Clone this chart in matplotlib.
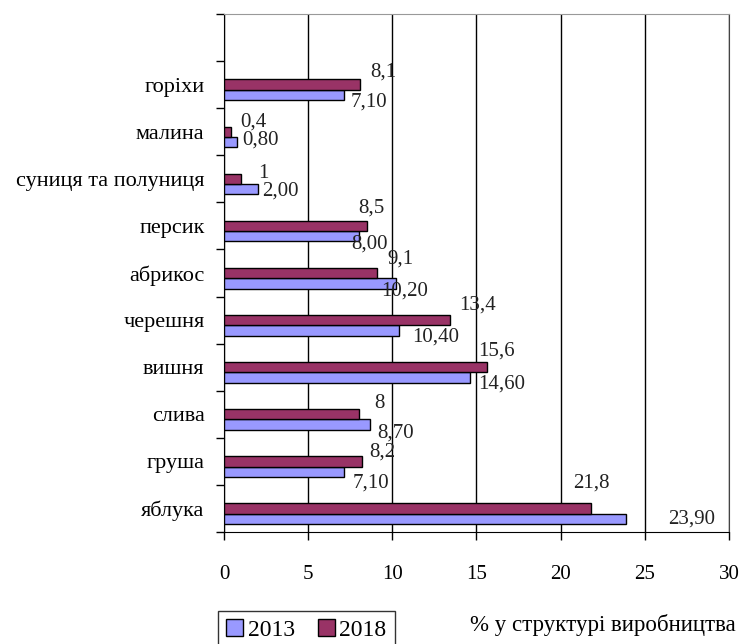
import matplotlib
matplotlib.use('Agg')
import matplotlib.pyplot as plt
import numpy as np

plt.rcParams['font.family'] = ['Liberation Serif', 'DejaVu Serif']

# categories from bottom to top
crops = ['яблука', 'груша', 'слива', 'вишня', 'черешня', 'абрикос',
         'персик', 'суниця та полуниця', 'малина', 'горіхи']
v2013 = [23.90, 7.10, 8.70, 14.60, 10.40, 10.20, 8.00, 2.00, 0.80, 7.10]
v2018 = [21.8, 8.2, 8, 15.6, 13.4, 9.1, 8.5, 1, 0.4, 8.1]

lab2013 = ['23,90', '7,10', '8,70', '14,60', '10,40', '10,20', '8,00', '2,00', '0,80', '7,10']
lab2018 = ['21,8', '8,2', '8', '15,6', '13,4', '9,1', '8,5', '1', '0,4', '8,1']

# label offsets in pixels (dx, dy up) - hand placed like in the original
off2018 = [(-18, 25), (7, 9), (16, 11), (-8, 16), (10, 15), (10, 14),
           (-9, 18), (17, 5), (10, 10), (10, 13)]
off2013 = [(42, 0), (9, -11), (7, -8), (8, -7), (13, -7), (-15, -8),
           (-7, -8), (4, -2), (5, 2), (7, -7)]

fig = plt.figure(figsize=(7.45, 6.44), dpi=100)
ax = fig.add_axes([224/745, 1-532/644, 505/745, 518/644])

y = np.arange(len(crops))
h = 0.22
ax.barh(y - h, v2013, height=h, color='#9999FF', edgecolor='black', lw=1, label='2013', zorder=3)
ax.barh(y, v2018, height=h, color='#993366', edgecolor='black', lw=1, label='2018', zorder=3)

for i in range(len(crops)):
    ax.annotate(lab2018[i], (v2018[i], y[i]), xytext=off2018[i], textcoords='offset pixels',
                ha='left', va='center', fontsize=15, color='#222222')
    ax.annotate(lab2013[i], (v2013[i], y[i] - h), xytext=off2013[i], textcoords='offset pixels',
                ha='left', va='center', fontsize=15, color='#222222')

ax.set_xlim(0, 30)
ax.set_xticks(range(0, 31, 5))
ax.set_yticks(y)
ax.set_yticklabels(crops)
ax.set_yticks(np.arange(-0.5, 11, 1), minor=True)
ax.tick_params(axis='y', which='major', length=0, pad=14, labelsize=16)
ax.tick_params(axis='y', which='minor', length=6, direction='out', width=1)
ax.tick_params(axis='x', length=6, direction='out', width=1, pad=18, labelsize=15)
ax.set_ylim(-0.5, 10.5)

ax.grid(axis='x', color='black', lw=1, zorder=0)
ax.spines['top'].set_color('#999999')
ax.spines['right'].set_color('#444444')

leg = fig.legend(loc='upper left', bbox_to_anchor=(218/745, 1-611/644), ncol=2,
                 fontsize=17, frameon=True, fancybox=False, edgecolor='black',
                 handlelength=0.7, handleheight=0.7, handletextpad=0.2,
                 columnspacing=1.0, borderpad=0.35, borderaxespad=0)
leg.get_frame().set_linewidth(1)

fig.text(470/745, 1-625/644, '% у структурі виробництва', fontsize=16.5, va='center', ha='left')

fig.savefig('out.png', dpi=100)
